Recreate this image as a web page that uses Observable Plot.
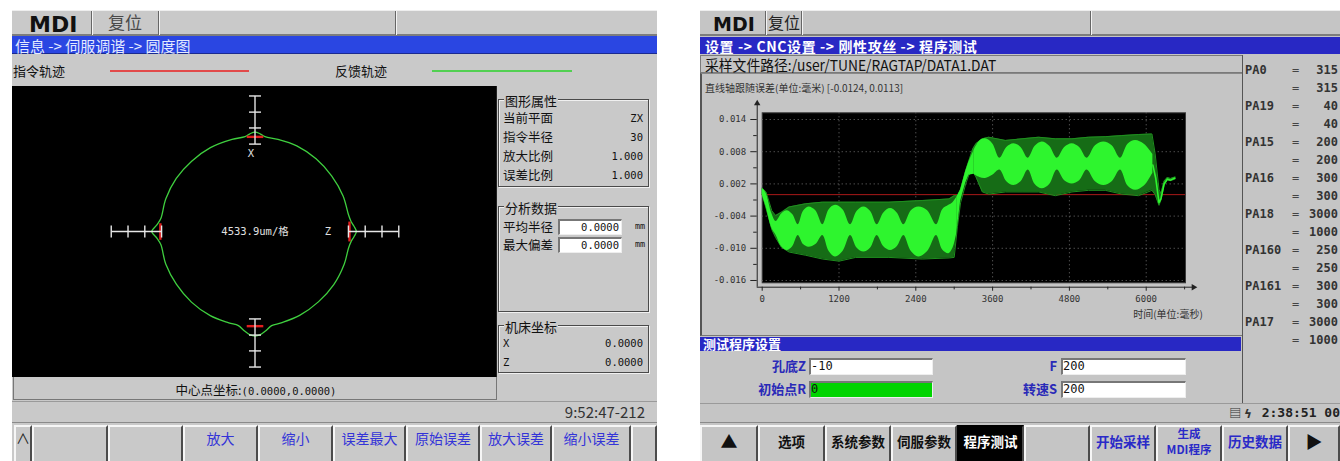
<!DOCTYPE html>
<html><head><meta charset="utf-8">
<script src="https://cdn.jsdelivr.net/npm/d3@7"></script>
<script src="https://cdn.jsdelivr.net/npm/@observablehq/plot@0.6"></script>
<style>
html,body{margin:0;padding:0;}
body{width:1340px;height:461px;background:#fff;position:relative;overflow:hidden;font-family:"Noto Sans CJK SC","DejaVu Sans",sans-serif;color:#222;}
.a{position:absolute;box-sizing:border-box;white-space:nowrap;}
.mono{font-family:"DejaVu Sans Mono","Noto Sans CJK SC",monospace;}
</style></head><body>
<svg width="0" height="0" style="position:absolute"><defs>
<pattern id="stripes" x="0.5" width="2" height="10" patternUnits="userSpaceOnUse"><rect width="2" height="10" fill="#0b300b"/><rect width="1" height="10" fill="#22a822"/></pattern>
</defs></svg>
<script>
// ================= DATA =================
// ---- left screen (roundness plot) ----
const leftCrumb = "信息 -> 伺服调谐 -> 圆度图";
const legendLabels = ["指令轨迹", "反馈轨迹"];
// feedback trace: angle (deg, from +Z axis, counter-clockwise) and radius (mm)
const fbAngle  = [0, 3, 6, 10, 22, 36, 50, 64, 76, 84, 87, 90, 93, 96, 104, 118, 132, 146, 160, 172, 176, 180, 184, 188, 200, 214, 228, 242, 254, 260, 264, 267, 270, 273, 276, 280, 286, 298, 312, 326, 340, 350, 354, 357];
const fbRadius = [32.0, 31.3, 30.5, 30.0, 30.0, 29.9, 30.0, 30.1, 30.0, 30.1, 30.9, 31.4, 30.9, 30.1, 30.0, 30.0, 29.9, 30.0, 30.0, 30.0, 31.0, 32.6, 31.0, 30.0, 30.0, 29.9, 30.0, 30.1, 30.0, 30.2, 31.6, 32.6, 33.0, 32.6, 31.6, 30.2, 30.0, 30.0, 29.9, 30.0, 30.0, 30.0, 30.5, 31.3];
// command trace: short arcs at the quadrant points
const cmdRadius = 30;
const cmdArcCenter = [90, 180, 270, 0];
const cmdArcHalf = [5, 5, 5, 6];
// scale bars (radius of each tick)
const zBarTicks = [29.5, 34.8, 40.1, 45.4];
const xBarTicks = [27.6, 32.7, 37.7, 42.8];
const gridLabel = "4533.9um/格";
const propLabels = ["当前平面", "指令半径", "放大比例", "误差比例"];
const propValues = ["ZX", "30", "1.000", "1.000"];
const anaLabels = ["平均半径", "最大偏差"];
const anaValues = ["0.0000", "0.0000"];
const machLabels = ["X", "Z"];
const machValues = ["0.0000", "0.0000"];
const centerText = ["中心点坐标:", "(0.0000,0.0000)"];
const leftClock = "9:52:47-212";
const leftButtons = ["∧", "", "", "放大", "缩小", "误差最大", "原始误差", "放大误差", "缩小误差", ""];

// ---- right screen (following error over time) ----
const rightCrumb = "设置 -> CNC设置 -> 刚性攻丝 -> 程序测试";
const pathText = "采样文件路径:/user/TUNE/RAGTAP/DATA1.DAT";
const chartTitle = "直线轴跟随误差(单位:毫米) [-0.0124, 0.0113]";
const xAxisTitle = "时间(单位:毫秒)";
// outer envelope of the error signal (ms, mm)
const tOuter  = [0, 60, 150, 210, 300, 420, 680, 940, 1200, 1460, 1980, 2500, 2920, 3000, 3050, 3100, 3180, 3230, 3290, 3340, 3440, 3540, 3800, 4060, 4320, 4580, 4840, 5100, 5360, 5620, 5880, 6090, 6140, 6200, 6230, 6280, 6330, 6380, 6450];
const outerLo = [0.0000, -0.0025, -0.0065, -0.0080, -0.0098, -0.0107, -0.0113, -0.0120, -0.0124, -0.0117, -0.0117, -0.0120, -0.0118, -0.0117, -0.0060, -0.0015, 0.0020, 0.0037, 0.0043, 0.0033, 0.0005, 0.0001, 0.0005, 0.0005, 0.0005, -0.0002, 0.0005, 0.0008, 0.0008, 0.0001, -0.0002, 0.0008, 0.0000, -0.0020, -0.0010, 0.0018, 0.0027, 0.0026, 0.0029];
const outerHi = [0.0012, 0.0005, -0.0030, -0.0039, -0.0033, -0.0023, -0.0017, -0.0014, -0.0014, -0.0014, -0.0014, -0.0011, -0.0008, -0.0002, -0.0002, 0.0010, 0.0045, 0.0063, 0.0085, 0.0095, 0.0104, 0.0107, 0.0101, 0.0104, 0.0107, 0.0104, 0.0104, 0.0107, 0.0108, 0.0110, 0.0112, 0.0113, 0.0076, 0.0010, 0.0002, 0.0025, 0.0032, 0.0030, 0.0033];
// dense (bright) core of the signal, first half: beat blobs
const tCoreL  = [0, 60, 150, 218, 304, 390, 476, 562, 645, 729, 838, 947, 1046, 1145, 1262, 1380, 1484, 1588, 1692, 1796, 1900, 2005, 2109, 2213, 2330, 2447, 2585, 2723, 2820, 2916, 2980, 3040];
const coreLoL = [0.0000, -0.0022, -0.0062, -0.0076, -0.0097, -0.0104, -0.0097, -0.0076, -0.0093, -0.0098, -0.0093, -0.0076, -0.0106, -0.0116, -0.0106, -0.0076, -0.0100, -0.0107, -0.0100, -0.0076, -0.0097, -0.0104, -0.0097, -0.0076, -0.0106, -0.0116, -0.0106, -0.0076, -0.0103, -0.0110, -0.0100, -0.0072];
const coreHiL = [0.0012, 0.0003, -0.0035, -0.0050, -0.0036, -0.0030, -0.0037, -0.0056, -0.0031, -0.0023, -0.0030, -0.0056, -0.0028, -0.0020, -0.0028, -0.0056, -0.0031, -0.0023, -0.0031, -0.0056, -0.0034, -0.0026, -0.0034, -0.0056, -0.0030, -0.0023, -0.0030, -0.0056, -0.0028, -0.0020, -0.0015, -0.0005];
// rise between the two halves
const tRise  = [3040, 3100, 3180, 3230, 3307];
const riseLo = [-0.0072, -0.0012, 0.0022, 0.0036, 0.0038];
const riseHi = [-0.0005, 0.0008, 0.0043, 0.0061, 0.0082];
// dense core, second half
const tCoreR  = [3307, 3400, 3489, 3600, 3713, 3822, 3932, 4044, 4156, 4265, 4375, 4492, 4609, 4726, 4843, 4960, 5077, 5207, 5338, 5468, 5598, 5715, 5833, 5970, 6104];
const coreLoR = [0.0038, 0.0032, 0.0030, 0.0036, 0.0046, 0.0024, 0.0017, 0.0024, 0.0046, 0.0019, 0.0011, 0.0019, 0.0046, 0.0026, 0.0020, 0.0026, 0.0046, 0.0024, 0.0017, 0.0024, 0.0046, 0.0016, 0.0008, 0.0016, 0.0040];
const coreHiR = [0.0082, 0.0100, 0.0104, 0.0095, 0.0068, 0.0088, 0.0095, 0.0088, 0.0068, 0.0090, 0.0098, 0.0090, 0.0068, 0.0088, 0.0095, 0.0088, 0.0068, 0.0091, 0.0098, 0.0091, 0.0068, 0.0094, 0.0101, 0.0094, 0.0075];
// tail after stop
const tTail = [6104, 6150, 6200, 6230, 6280, 6330, 6380, 6450];
const vTail = [0.0055, 0.0030, -0.0015, -0.0008, 0.0020, 0.0029, 0.0027, 0.0031];
const yTicks = [-0.016, -0.010, -0.004, 0.002, 0.008, 0.014];
const yMinor = [-0.013, -0.007, -0.001, 0.005, 0.011];
const xTicks = [0, 1200, 2400, 3600, 4800, 6000];
const xMinor = [600, 1800, 3000, 4200, 5400, 6600];
const refLine = [0];
const paNames  = ["PA0", "", "PA19", "", "PA15", "", "PA16", "", "PA18", "", "PA160", "", "PA161", "", "PA17", ""];
const paValues = [315, 315, 40, 40, 200, 200, 300, 300, 3000, 1000, 250, 250, 300, 300, 3000, 1000];
const testLabels = ["孔底Z", "初始点R", "F", "转速S"];
const testValues = ["-10", "0", "200", "200"];
const rightClock = "2:38:51 00";
const rightButtons = ["▲", "选项", "系统参数", "伺服参数", "程序测试", "", "开始采样", ["生成", "MDI程序"], "历史数据", "▶"];

// ================= HELPERS =================
function el(x, y, w, h, css, html) {
  const d = document.createElement("div");
  d.className = "a";
  d.style.cssText = `left:${x}px;top:${y}px;width:${w}px;height:${h}px;${css || ""}`;
  if (html != null) d.innerHTML = html;
  document.body.appendChild(d);
  return d;
}
function tx(x, yc, html, css, align, lh) {
  lh = lh || 16;
  const W = 400;
  let left = x, width = "auto";
  if (align === "right") { left = x - W; width = W + "px"; }
  else if (align === "center") { left = x - W / 2; width = W + "px"; }
  const d = document.createElement("div");
  d.className = "a";
  d.style.cssText = `left:${left}px;top:${yc - lh / 2}px;width:${width};height:${lh}px;line-height:${lh}px;${align ? "text-align:" + align + ";" : ""}${css || ""}`;
  d.innerHTML = html;
  document.body.appendChild(d);
  return d;
}
const R2D = Math.PI / 180;
const polar = (a, r) => ({x: r * Math.cos(a * R2D), y: r * Math.sin(a * R2D)});

// ================= LEFT SCREEN =================
const LBG = "#c9c9c9";
el(12, 10, 645, 451, `background:${LBG}`);
el(12, 10, 645, 26, `background:${LBG};border-top:1px solid #eee;border-bottom:2px solid #7d7d7d`);
tx(29, 23, "MDI", 'font:bold 22px "DejaVu Sans";color:#111', null, 22);
[91, 158, 395].forEach(x => el(x, 11, 2, 24, "border-left:1px solid #666;border-right:1px solid #f4f4f4"));
tx(108, 22, "复位", "font-size:17px;color:#4a4a4a", null, 20);
el(12, 36, 645, 18, "background:#2a46e2;border-bottom:1px solid #1a2a90");
tx(15, 45, leftCrumb, "font-size:15px;color:#e4eaff", null, 17);
tx(13, 71, legendLabels[0], "font-size:13px;color:#111");
el(110, 70, 139, 2, "background:#e24a4a");
tx(335, 71, legendLabels[1], "font-size:13px;color:#111");
el(432, 70, 140, 2, "background:#52d052");

// roundness plot
{
  const fbPts = fbAngle.map((a, i) => polar(a, fbRadius[i]));
  const cmdLinks = cmdArcCenter.map((c, i) => {
    const p = polar(c - cmdArcHalf[i], cmdRadius), q = polar(c + cmdArcHalf[i], cmdRadius);
    return {x1: p.x, y1: p.y, x2: q.x, y2: q.y};
  });
  const bars = [], ticks = [];
  [[0, zBarTicks], [180, zBarTicks], [90, xBarTicks], [270, xBarTicks]].forEach(([dir, tk]) => {
    const p = polar(dir, tk[0]), q = polar(dir, tk[tk.length - 1]);
    bars.push({x1: p.x, y1: p.y, x2: q.x, y2: q.y});
    tk.forEach(r => {
      const c = polar(dir, r), n = polar(dir + 90, 1.9);
      ticks.push({x1: c.x - n.x, y1: c.y - n.y, x2: c.x + n.x, y2: c.y + n.y});
    });
  });
  const labels = [
    {x: -1.3, y: 24.6, s: "X"},
    {x: 23, y: 0, s: "Z"},
    {x: 0, y: 0, s: gridLabel}
  ];
  const lp = Plot.plot({
    width: 484, height: 291,
    margin: 0,
    x: {domain: [-76.58, 76.26], axis: null},
    y: {domain: [-46.1, 45.79], axis: null},
    style: {background: "#000", overflow: "visible"},
    marks: [
      Plot.line(fbPts, {x: "x", y: "y", stroke: "#3fcf3f", strokeWidth: 1.3, curve: "catmull-rom-closed"}),
      Plot.link(cmdLinks, {x1: "x1", y1: "y1", x2: "x2", y2: "y2", stroke: "#e01e1e", strokeWidth: 2.4}),
      Plot.link(bars, {x1: "x1", y1: "y1", x2: "x2", y2: "y2", stroke: "#e6e6e6", strokeWidth: 1.4}),
      Plot.link(ticks, {x1: "x1", y1: "y1", x2: "x2", y2: "y2", stroke: "#e6e6e6", strokeWidth: 1.4}),
      Plot.text(labels, {x: "x", y: "y", text: "s", fill: "#e0e0e0", fontSize: 10.5, fontFamily: "DejaVu Sans Mono, Noto Sans CJK SC"})
    ]
  });
  const holder = el(12, 86, 484, 291, "background:#000");
  holder.appendChild(lp);
}
el(496, 86, 1, 314, "background:#222");

// info groups
function group(x, y, w, h, title) {
  el(x, y, w, h, "border:1px solid #4a4a4a;box-shadow:inset 1px 1px 0 #f0f0f0,1px 1px 0 #f0f0f0");
  tx(x + 6, y + 2, title, `font-size:13px;color:#111;background:${LBG};padding:0 1px`);
}
group(498, 99, 151, 88, "图形属性");
propLabels.forEach((l, i) => {
  const y = 118 + i * 19;
  tx(503, y, l, "font-size:12.5px;color:#111");
  tx(643, y, propValues[i], "font-size:10.5px;color:#111", "right").classList.add("mono");
});
group(498, 206, 151, 106, "分析数据");
anaLabels.forEach((l, i) => {
  const y = 226.5 + i * 18.5;
  tx(503, y, l, "font-size:12.5px;color:#111");
  el(558, y - 8, 64, 16, "background:#fff;border-top:2px solid #777;border-left:2px solid #777;border-bottom:1px solid #eee;border-right:1px solid #eee");
  tx(619, y, anaValues[i], "font-size:10.5px;color:#111", "right").classList.add("mono");
  tx(635, y - 1, "mm", "font-size:8.5px;color:#111", null, 10).classList.add("mono");
});
group(498, 325, 151, 48, "机床坐标");
machLabels.forEach((l, i) => {
  const y = 343 + i * 18.5;
  tx(503, y, l, "font-size:10.5px;color:#111").classList.add("mono");
  tx(643, y, machValues[i], "font-size:10.5px;color:#111", "right").classList.add("mono");
});

// centre row + status + buttons
el(13, 377, 484, 23, `background:${LBG};border:1px solid #777;border-top:none`);
tx(256, 388, `<span style="font-size:12.5px">${centerText[0]}</span><span class="mono" style="font-size:10.5px">${centerText[1]}</span>`, "color:#111", "center");
el(12, 401, 645, 22, `background:${LBG};border-top:1px solid #9a9a9a;border-bottom:1px solid #8a8a8a`);
tx(645, 412, leftClock, "font-size:15px;color:#333", "right", 18);
{
  const edges = [14, 32, 108, 183, 258, 333, 406, 480, 552, 631, 657];
  leftButtons.forEach((b, i) => {
    const x0 = edges[i], x1 = edges[i + 1];
    el(x0, 425, x1 - x0, 36, `background:${LBG};border-left:2px solid #f6f6f6;border-top:2px solid #f6f6f6;border-right:2px solid #4c4c4c`);
    if (b) tx((x0 + x1) / 2, 438, b, `font-size:14px;color:${i === 0 ? "#222" : "#3434d8"}`, "center", 18);
  });
}

// ================= RIGHT SCREEN =================
const RBG = "#c5c5c5";
el(700, 10, 640, 451, `background:${RBG}`);
el(700, 10, 640, 26, `background:${RBG};border-top:1px solid #eee;border-bottom:2px solid #7d7d7d`);
tx(713, 23, "MDI", 'font:bold 19px "DejaVu Sans";color:#111', null, 20);
[765, 801, 1090].forEach(x => el(x, 11, 2, 24, "border-left:1px solid #666;border-right:1px solid #f4f4f4"));
tx(768, 22, "复位", "font-size:16px;color:#222", null, 20);
el(700, 37, 640, 17, "background:#2828c4");
tx(705, 45.5, rightCrumb, "font-size:14px;font-weight:bold;color:#fff;letter-spacing:0.6px", null, 16);
el(700, 55, 542, 18, "border:1px solid #7a7a7a;border-right:none");
tx(705, 64, pathText, "font-size:15px;color:#111;transform:scaleX(0.92);transform-origin:0 50%", null, 17);
el(700, 73, 542, 263, `background:${RBG};border-left:2px solid #555;border-top:1px solid #888;border-bottom:1px solid #777`);
tx(705, 88, chartTitle, "font-size:10px;color:#333", null, 12);

// error-vs-time plot
{
  const outer = tOuter.map((t, i) => ({t, lo: outerLo[i], hi: outerHi[i]}));
  const coreL = tCoreL.map((t, i) => ({t, lo: coreLoL[i], hi: coreHiL[i], seg: "L"}));
  const coreR = tCoreR.map((t, i) => ({t, lo: coreLoR[i], hi: coreHiR[i], seg: "R"}));
  const rise = tRise.map((t, i) => ({t, lo: riseLo[i], hi: riseHi[i]}));
  const tail = tTail.map((t, i) => ({t, v: vTail[i]}));
  const axisY0 = -0.01725;   // value where the x axis is drawn (below frame)
  const axisX0 = -78;        // time where the y axis is drawn (left of frame)
  const BRIGHT = "#2ef52e";
  const rp = Plot.plot({
    width: 500, height: 230,
    marginLeft: 61.7, marginRight: 15, marginTop: 20.3, marginBottom: 39.7,
    x: {domain: [0, 6614], axis: null},
    y: {domain: [-0.01643, 0.01525], axis: null},
    style: {background: "transparent", overflow: "visible"},
    marks: [
      Plot.frame({fill: "#000", stroke: "#3a3a3a"}),
      Plot.gridY(yTicks, {stroke: "#707070", strokeOpacity: 1, strokeDasharray: "1,3"}),
      Plot.gridX(xTicks.slice(1), {stroke: "#707070", strokeOpacity: 1, strokeDasharray: "1,3"}),
      Plot.ruleY(refLine, {stroke: "#a81818", strokeWidth: 1}),
      Plot.areaY(outer, {x: "t", y1: "lo", y2: "hi", fill: "url(#stripes)"}),
      Plot.line(outer, {x: "t", y: "hi", stroke: "#1f8f1f", strokeWidth: 1}),
      Plot.line(outer, {x: "t", y: "lo", stroke: "#1f8f1f", strokeWidth: 1}),
      Plot.areaY(coreL.concat(coreR), {x: "t", y1: "lo", y2: "hi", z: "seg", fill: BRIGHT, curve: "catmull-rom"}),
      Plot.areaY(rise, {x: "t", y1: "lo", y2: "hi", fill: BRIGHT}),
      Plot.line(tail, {x: "t", y: "v", stroke: BRIGHT, strokeWidth: 1.6}),
      // axes
      Plot.ruleX([axisX0], {y1: axisY0, y2: 0.0170, stroke: "#222"}),
      Plot.ruleY([axisY0], {x1: axisX0, x2: 6740, stroke: "#222"}),
      Plot.dot([{t: axisX0, v: 0.0170}], {x: "t", y: "v", symbol: "triangle", r: 2.4, fill: "#222", stroke: null}),
      Plot.dot([{t: 6740, v: axisY0}], {x: "t", y: "v", symbol: "triangle", r: 2.4, fill: "#222", stroke: null, rotate: 90}),
      Plot.ruleY(yTicks, {y: d => d, x1: axisX0, x2: axisX0 - 100, stroke: "#222"}),
      Plot.ruleY(yMinor, {y: d => d, x1: axisX0, x2: axisX0 - 55, stroke: "#222"}),
      Plot.ruleX(xTicks, {x: d => d, y1: axisY0, y2: axisY0 - 0.00075, stroke: "#222"}),
      Plot.ruleX(xMinor, {x: d => d, y1: axisY0, y2: axisY0 - 0.0005, stroke: "#222"}),
      Plot.text(yTicks, {y: d => d, frameAnchor: "left", textAnchor: "end", dx: -16, text: d => d.toFixed(3), fontSize: 9, fill: "#333", fontFamily: "DejaVu Sans Mono"}),
      Plot.text(xTicks, {x: d => d, frameAnchor: "bottom", dy: 19, text: d => String(d), fontSize: 9, fill: "#333", fontFamily: "DejaVu Sans Mono"})
    ]
  });
  const holder = el(700, 92, 500, 230, "");
  holder.appendChild(rp);
}
tx(1168, 314, xAxisTitle, "font-size:10px;color:#333", "center", 12);

// parameter column
el(1242, 55, 98, 348, "border-left:1px solid #555");
paNames.forEach((n, i) => {
  const y = 70 + i * 18;
  if (n) tx(1245, y, n, "font-size:12px;font-weight:bold;color:#333").classList.add("mono");
  tx(1292, y, "=", "font-size:12px;color:#444").classList.add("mono");
  tx(1338, y, String(paValues[i]), "font-size:12px;font-weight:bold;color:#333", "right").classList.add("mono");
});

// test program settings
el(700, 337, 541, 14, "background:#2828c4");
tx(703, 344, "测试程序设置", "font-size:13px;font-weight:bold;color:#fff", null, 14);
[[806, 809, 366], [806, 809, 389], [1057, 1061, 366], [1057, 1061, 389]].forEach(([lx, ix, y], i) => {
  tx(lx, y, testLabels[i], "font-size:13px;font-weight:bold;color:#2a2ab8", "right");
  el(ix, y - 8, ix < 1000 ? 124 : 125, 17, `background:${i === 1 ? "#00d400" : "#fff"};border-top:2px solid #777;border-left:2px solid #777;border-bottom:1px solid #eee;border-right:1px solid #eee`);
  tx(ix + 2, y, testValues[i], "font-size:12px;color:#111").classList.add("mono");
});

// status + buttons
el(700, 403, 640, 20, `background:${RBG};border-top:1px solid #9a9a9a;border-bottom:1px solid #8a8a8a`);
tx(1252, 413, "▤ ϟ", "font-size:12px;color:#333;font-weight:bold", "right");
tx(1340, 413, rightClock, "font-size:13px;font-weight:bold;color:#222", "right").classList.add("mono");
{
  const edges = [700, 758, 825, 891, 957, 1024, 1090, 1156, 1222, 1288, 1340];
  rightButtons.forEach((b, i) => {
    const x0 = edges[i], x1 = edges[i + 1];
    const sel = i === 4;
    el(x0, 425, x1 - x0, 36, `background:${sel ? "#000" : RBG};border-left:2px solid ${sel ? "#000" : "#f6f6f6"};border-top:2px solid ${sel ? "#000" : "#f6f6f6"};border-right:2px solid #4c4c4c`);
    if (!b) return;
    const blue = i >= 6 && i <= 8;
    if (Array.isArray(b)) {
      tx((x0 + x1) / 2, 433, b[0], "font-size:11.5px;font-weight:bold;color:#2a2ac8", "center", 14);
      tx((x0 + x1) / 2, 448.5, b[1], "font-size:11.5px;font-weight:bold;color:#2a2ac8", "center", 14);
    } else {
      tx((x0 + x1) / 2, 441, b, `font-size:${i === 0 || i === 9 ? 17 : 13.5}px;font-weight:bold;color:${sel ? "#fff" : blue ? "#2a2ac8" : "#111"}`, "center", 20);
    }
  });
}
</script></body></html>
